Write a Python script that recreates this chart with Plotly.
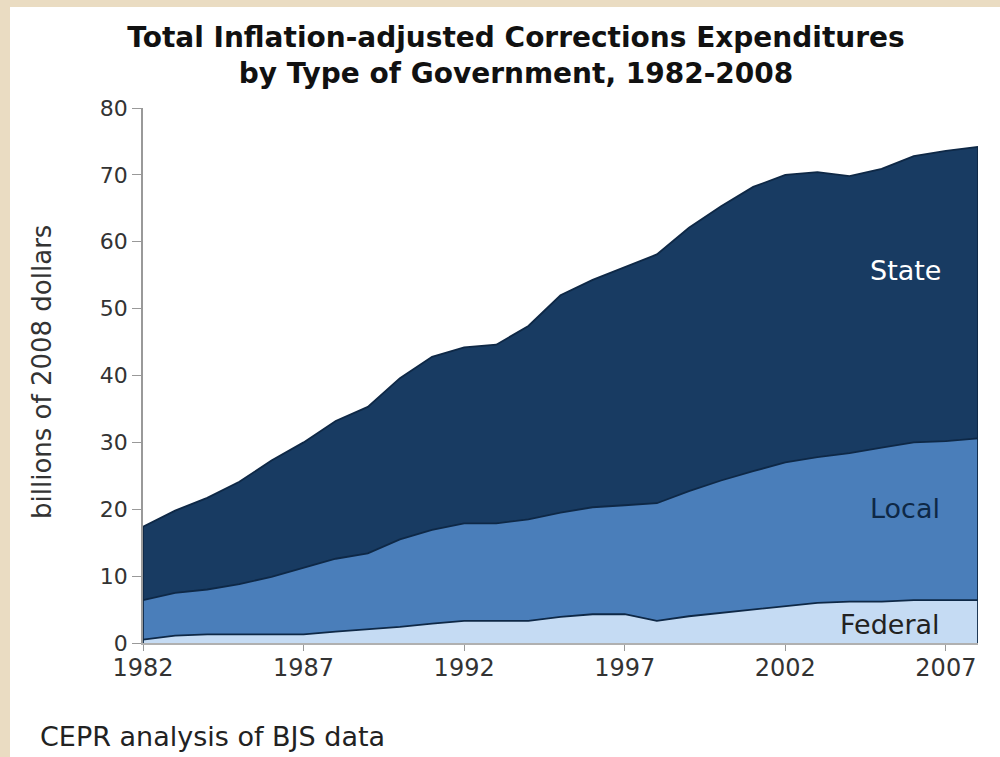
import plotly.graph_objects as go

years = list(range(1982, 2009))
federal = [0.5, 1.1, 1.3, 1.3, 1.3, 1.3, 1.7, 2.0, 2.4, 2.9, 3.3, 3.3, 3.3, 3.9,
           4.3, 4.3, 3.3, 4.0, 4.5, 5.1, 5.5, 6.0, 6.2, 6.2, 6.4, 6.4, 6.4]
local = [5.9, 6.4, 6.7, 7.5, 8.6, 9.9, 10.9, 11.4, 13.1, 14.0, 14.6, 14.6, 15.2, 15.6,
         16.0, 16.3, 17.6, 18.7, 19.8, 20.6, 21.5, 21.8, 22.2, 23.0, 23.6, 23.8, 24.2]
state = [11.0, 12.3, 13.7, 15.3, 17.4, 18.8, 20.6, 21.9, 24.1, 25.9, 26.3, 26.7, 28.9, 32.5,
         34.0, 35.6, 37.2, 39.4, 41.0, 42.5, 43.0, 42.6, 41.4, 41.7, 42.8, 43.4, 43.6]
x_ticks = [1982, 1987, 1992, 1997, 2002, 2007]
y_ticks = [0, 10, 20, 30, 40, 50, 60, 70, 80]

W, H = 1000, 757
L, R, T, B = 143, 22, 108, 114
pw, ph = W - L - R, H - T - B

def px(xp):
    return (xp - L) / pw

def py(yp):
    return (H - B - yp) / ph

edge = "#0E2846"
series = [("Federal", federal, "#C5DBF3"),
          ("Local", local, "#4A7EBA"),
          ("State", state, "#183B62")]

fig = go.Figure()
for name, vals, col in series:
    fig.add_trace(go.Scatter(x=years, y=vals, name=name, stackgroup="one",
                             mode="lines", line=dict(color=edge, width=1.8),
                             fillcolor=col, hoverinfo="x+y"))

total = [a + b + c for a, b, c in zip(federal, local, state)]
for i in (0, -1):
    fig.add_trace(go.Scatter(x=[years[i], years[i]], y=[0, total[i]], mode="lines",
                             line=dict(color=edge, width=1.8), showlegend=False,
                             hoverinfo="skip"))

font = "DejaVu Sans"

def note(text, x, y, size, color, **kw):
    d = dict(text=text, x=px(x), y=py(y), xref="paper", yref="paper",
             xanchor="center", yanchor="middle", showarrow=False,
             font=dict(family=font, size=size, color=color))
    d.update(kw)
    return d

fig.update_layout(
    width=W, height=H,
    margin=dict(l=L, r=R, t=T, b=B),
    paper_bgcolor="#EADCC2",
    plot_bgcolor="white",
    showlegend=False,
    font=dict(family=font, color="#333333"),
    title=dict(text="<b>Total Inflation-adjusted Corrections Expenditures<br>by Type of Government, 1982-2008</b>",
               x=0.516, xref="container", xanchor="center",
               y=1 - 47 / H, yref="container", yanchor="middle",
               font=dict(family=font, size=28, color="#111111")),
    xaxis=dict(range=[years[0], years[-1]], tickvals=x_ticks, ticks="outside",
               ticklen=6, tickcolor="#999999", showline=True, linecolor="#B0B0B0",
               linewidth=1.5, showgrid=False, zeroline=False, ticklabelstandoff=-4,
               tickfont=dict(family=font, size=24, color="#333333")),
    yaxis=dict(range=[0, 80], tickvals=y_ticks, ticks="outside", ticklen=9,
               tickcolor="#999999", showline=True, linecolor="#999999",
               linewidth=1.5, showgrid=False, zeroline=False,
               tickfont=dict(family=font, size=22, color="#333333")),
    shapes=[dict(type="rect", xref="paper", yref="paper",
                 x0=px(10), x1=px(1000), y0=py(757), y1=py(7),
                 fillcolor="white", line=dict(width=0), layer="below")],
    annotations=[
        note("billions of 2008 dollars", 42, 372, 26, "#333333", textangle=-90),
        note("CEPR analysis of BJS data", 38, 737, 27, "#222222", xanchor="left"),
        note("State", 905, 270, 27, "white"),
        note("Local", 905, 508, 27, "#0E2846"),
        note("Federal", 890, 624, 27, "#222222"),
    ],
)

fig.write_html("out.html", config={"displayModeBar": False},
               post_script="document.body.style.margin='0';")
